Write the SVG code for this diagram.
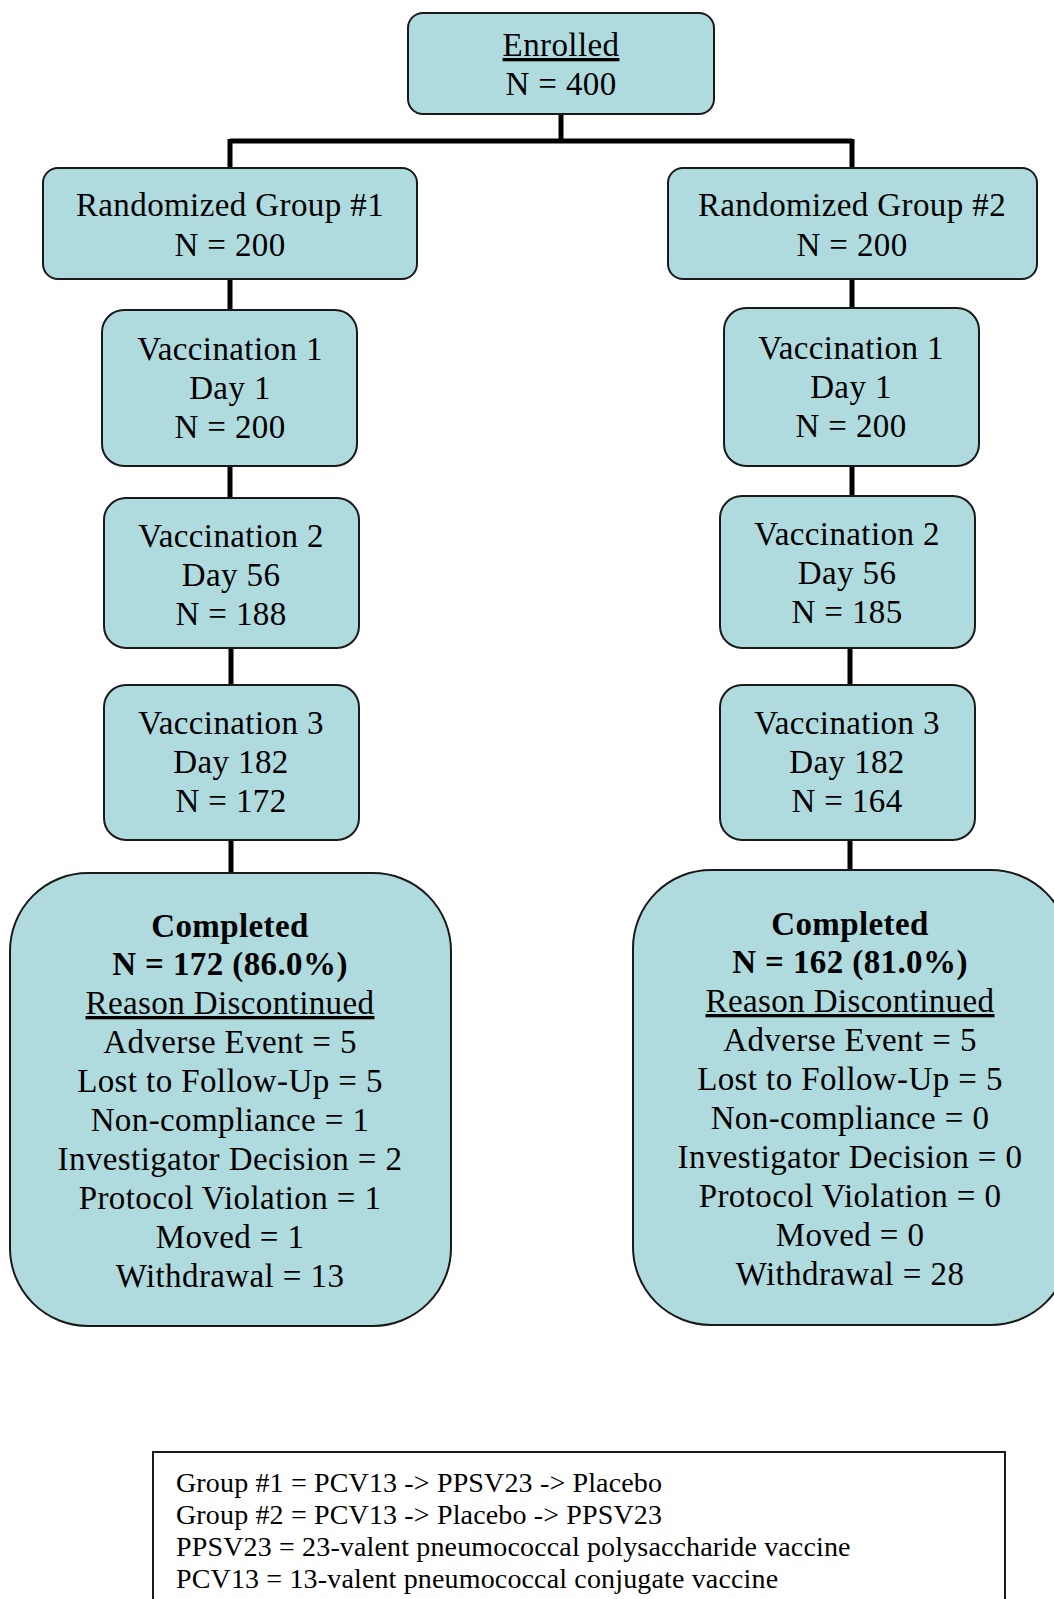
<svg xmlns="http://www.w3.org/2000/svg" width="1054" height="1599" viewBox="0 0 1054 1599">
<style>
.box{fill:#B0DBDE;stroke:#1a1a1a;stroke-width:2}
.t{font-family:"Liberation Serif","Times New Roman",serif;font-size:33px;letter-spacing:0.4px;fill:#000;text-anchor:middle}
.b{font-weight:bold}
.u{text-decoration:underline}
.conn{stroke:#000;stroke-width:5;fill:none}
.leg{fill:#fff;stroke:#1a1a1a;stroke-width:2}
.lt{font-family:"Liberation Serif","Times New Roman",serif;font-size:28px;letter-spacing:0.15px;fill:#000}
</style>
<rect width="1054" height="1599" fill="#fff"/>
<g id="connectors">
<path class="conn" d="M561 114V141M230 141H852M230 139V168M852 139V168"/>
<path class="conn" d="M230 279V310M230 466V498M231 648V685M231 840V873"/>
<path class="conn" d="M852 279V308M852 466V496M850 648V685M850 840V870"/>
</g>
<g id="enrolled">
<rect class="box" x="408" y="13" width="306" height="101" rx="15"/>
<text class="t u" x="561" y="56">Enrolled</text>
<text class="t" x="561" y="95">N = 400</text>
</g>
<g id="group1">
<rect class="box" x="43" y="168" width="374" height="111" rx="15"/>
<text class="t" x="230" y="216">Randomized Group #1</text>
<text class="t" x="230" y="256">N = 200</text>
</g>
<g id="group2">
<rect class="box" x="668" y="168" width="369" height="111" rx="15"/>
<text class="t" x="852" y="216">Randomized Group #2</text>
<text class="t" x="852" y="256">N = 200</text>
</g>
<g id="g1v1">
<rect class="box" x="102" y="310" width="255" height="156" rx="22"/>
<text class="t" x="230" y="360">Vaccination 1</text>
<text class="t" x="230" y="399">Day 1</text>
<text class="t" x="230" y="438">N = 200</text>
</g>
<g id="g1v2">
<rect class="box" x="104" y="498" width="255" height="150" rx="22"/>
<text class="t" x="231" y="547">Vaccination 2</text>
<text class="t" x="231" y="586">Day 56</text>
<text class="t" x="231" y="625">N = 188</text>
</g>
<g id="g1v3">
<rect class="box" x="104" y="685" width="255" height="155" rx="22"/>
<text class="t" x="231" y="734">Vaccination 3</text>
<text class="t" x="231" y="773">Day 182</text>
<text class="t" x="231" y="812">N = 172</text>
</g>
<g id="g2v1">
<rect class="box" x="724" y="308" width="255" height="158" rx="22"/>
<text class="t" x="851" y="359">Vaccination 1</text>
<text class="t" x="851" y="398">Day 1</text>
<text class="t" x="851" y="437">N = 200</text>
</g>
<g id="g2v2">
<rect class="box" x="720" y="496" width="255" height="152" rx="22"/>
<text class="t" x="847" y="545">Vaccination 2</text>
<text class="t" x="847" y="584">Day 56</text>
<text class="t" x="847" y="623">N = 185</text>
</g>
<g id="g2v3">
<rect class="box" x="720" y="685" width="255" height="155" rx="22"/>
<text class="t" x="847" y="734">Vaccination 3</text>
<text class="t" x="847" y="773">Day 182</text>
<text class="t" x="847" y="812">N = 164</text>
</g>
<g id="completed1">
<rect class="box" x="10" y="873" width="441" height="453" rx="78"/>
<text class="t b" x="230" y="937">Completed</text>
<text class="t b" x="230" y="975">N = 172 (86.0%)</text>
<text class="t u" x="230" y="1014">Reason Discontinued</text>
<text class="t" x="230" y="1053">Adverse Event = 5</text>
<text class="t" x="230" y="1092">Lost to Follow-Up = 5</text>
<text class="t" x="230" y="1131">Non-compliance = 1</text>
<text class="t" x="230" y="1170">Investigator Decision = 2</text>
<text class="t" x="230" y="1209">Protocol Violation = 1</text>
<text class="t" x="230" y="1248">Moved = 1</text>
<text class="t" x="230" y="1287">Withdrawal = 13</text>
</g>
<g id="completed2">
<rect class="box" x="633" y="870" width="436" height="455" rx="78"/>
<text class="t b" x="850" y="935">Completed</text>
<text class="t b" x="850" y="973">N = 162 (81.0%)</text>
<text class="t u" x="850" y="1012">Reason Discontinued</text>
<text class="t" x="850" y="1051">Adverse Event = 5</text>
<text class="t" x="850" y="1090">Lost to Follow-Up = 5</text>
<text class="t" x="850" y="1129">Non-compliance = 0</text>
<text class="t" x="850" y="1168">Investigator Decision = 0</text>
<text class="t" x="850" y="1207">Protocol Violation = 0</text>
<text class="t" x="850" y="1246">Moved = 0</text>
<text class="t" x="850" y="1285">Withdrawal = 28</text>
</g>
<g id="legend">
<rect class="leg" x="153" y="1452" width="852" height="160"/>
<text class="lt" x="176" y="1492">Group #1 = PCV13 -&gt; PPSV23 -&gt; Placebo</text>
<text class="lt" x="176" y="1524">Group #2 = PCV13 -&gt; Placebo -&gt; PPSV23</text>
<text class="lt" x="176" y="1556">PPSV23 = 23-valent pneumococcal polysaccharide vaccine</text>
<text class="lt" x="176" y="1588">PCV13 = 13-valent pneumococcal conjugate vaccine</text>
</g>
</svg>
